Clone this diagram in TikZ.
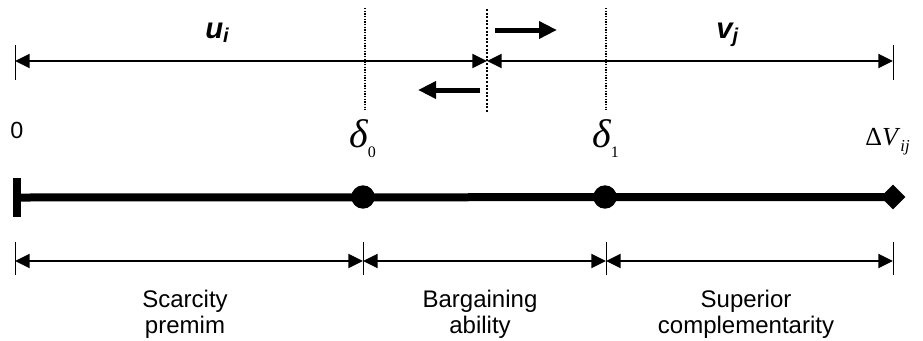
\documentclass[tikz,border=0pt]{standalone}
\usepackage{fontspec}
\setmainfont{Liberation Sans}
\newfontfamily\tms{Liberation Serif}
\usetikzlibrary{arrows.meta,shapes.geometric}

\begin{document}
\begin{tikzpicture}[x=0.75pt,y=-0.75pt,
  >={Triangle[length=11pt,width=10.5pt]},
  dim/.style={line width=1.6pt,<->},
  tickline/.style={line width=0.75pt},
  guide/.style={line width=0.9pt,dash pattern=on 1pt off 1pt},
  pivot/.style={line width=2pt,dash pattern=on 1.5pt off 1.2pt},
  shift arrow/.style={line width=3.75pt,-{Triangle[length=13.5pt,width=12.5pt]}},
  axis/.style={line width=6pt},
  dot/.style={circle,fill,minimum size=17.5pt,inner sep=0pt},
  lbl/.style={inner sep=0pt,anchor=base west},
  area/.style={inner sep=0pt,align=center,anchor=base,
    font=\fontsize{18}{19.5}\selectfont}]

\useasboundingbox (0,0) rectangle (923,340);

% ---- top: shares u_i and v_j with the moving split point ----
\coordinate (tl) at (15,61);
\coordinate (tm) at (487,61);
\coordinate (tr) at (893,61);
\coordinate (tlA) at (15,45);  \coordinate (tlB) at (15,80);
\coordinate (trA) at (893,45); \coordinate (trB) at (893,80);
\draw[tickline] (tlA) -- (tlB);
\draw[tickline] (trA) -- (trB);

\coordinate (g0a) at (365,8);  \coordinate (g0b) at (365,110);
\coordinate (g1a) at (606,8);  \coordinate (g1b) at (606,110);
\coordinate (pa) at (487,9);   \coordinate (pb) at (487,112);
\draw[guide] (g0a) -- (g0b);
\draw[guide] (g1a) -- (g1b);
\draw[pivot] (pa) -- (pb);

\draw[dim] (tl) -- (tm);
\draw[dim] (tm) -- (tr);

\coordinate (rA) at (495,30); \coordinate (rB) at (557,30);
\coordinate (lA) at (480,90); \coordinate (lB) at (418,90);
\draw[shift arrow] (rA) -- (rB);
\draw[shift arrow] (lA) -- (lB);

\node[lbl] (ui) at (205,38) {\fontsize{22}{24}\selectfont\bfseries\itshape u\raisebox{-3.5pt}{\fontsize{15}{15}\selectfont i}};
\node[lbl] (vj) at (716,38) {\fontsize{22}{24}\selectfont\bfseries\itshape v\raisebox{-3.5pt}{\fontsize{15}{15}\selectfont j}};

% ---- point labels ----
\node[lbl] (zero) at (10,138) {\fontsize{17.5}{19}\selectfont 0};
\node[lbl] (dl0) at (349,147) {\tms\fontsize{30}{32}\selectfont\itshape δ\raisebox{-7.5pt}{\fontsize{12}{12}\selectfont\upshape 0}};
\node[lbl] (dl1) at (592,147) {\tms\fontsize{30}{32}\selectfont\itshape δ\raisebox{-7.5pt}{\fontsize{12}{12}\selectfont\upshape 1}};
\node[lbl] (dV) at (865,145) {\tms\fontsize{19.5}{22}\selectfont Δ\textit{V}\raisebox{-4.5pt}{\fontsize{12.5}{12.5}\selectfont\itshape ij}};

% ---- the value axis ----
\node[fill,minimum width=6pt,minimum height=29pt,inner sep=0pt] (start) at (17,197.5) {};
\node[diamond,fill,minimum width=18.75pt,minimum height=18.75pt,inner sep=0pt] (end) at (893,197) {};
\draw[axis] (start.center) -- (end.center);
\node[dot] (d0) at (363,197) {};
\node[dot] (d1) at (605,197) {};

% ---- bottom: the three components ----
\foreach \n/\x in {b0/15,b1/363,b2/606,b3/893}{
  \coordinate (\n) at (\x,261);
  \coordinate (\n A) at (\x,242);
  \coordinate (\n B) at (\x,275);
  \draw[tickline] (\n A) -- (\n B);
}
\draw[dim] (b0) -- (b1);
\draw[dim] (b1) -- (b2);
\draw[dim] (b2) -- (b3);

\node[area] (scar) at (185,333) {Scarcity\\premim};
\node[area] (barg) at (480,333) {Bargaining\\ability};
\node[area] (comp) at (746,333) {Superior\\complementarity};

\end{tikzpicture}
\end{document}
